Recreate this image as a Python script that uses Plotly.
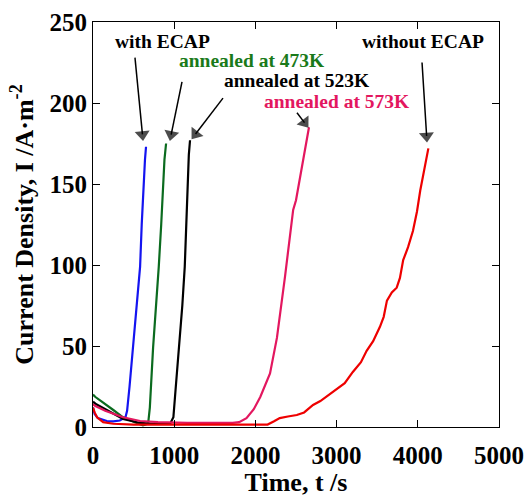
import math
import plotly.graph_objects as go

# Current density transients, time in s and current density in A/m^2
t_with_ecap = [0, 20, 60, 110, 170, 250, 330, 400, 420, 450, 495, 540, 580, 600, 620, 640, 653]
i_with_ecap = [12, 8, 5.5, 4.5, 3.7, 3.5, 4, 6, 10, 25, 49, 75, 99, 125, 150, 165, 173]

t_473 = [0, 30, 100, 170, 250, 370, 480, 560, 615, 650, 680, 700, 740, 780, 810, 840, 860, 880, 900]
i_473 = [20, 18.5, 16, 13.6, 10.5, 6, 3.5, 2, 1, 1.5, 2.5, 12, 49, 75, 99, 125, 150, 165, 175]

t_523 = [0, 40, 170, 370, 580, 750, 950, 990, 1020, 1060, 1100, 1130, 1150, 1160, 1180, 1195]
i_523 = [15.6, 14, 10.5, 5, 2.5, 2, 2, 6, 25, 49, 75, 99, 125, 150, 168, 177]

t_573 = [0, 30, 150, 370, 580, 800, 1160, 1500, 1720, 1800, 1890, 1980, 2060, 2180, 2265,
         2365, 2465, 2500, 2550, 2610, 2660]
i_573 = [14, 13, 10, 6, 3.7, 3, 2.5, 2.5, 2.5, 3, 5.5, 11, 18.5, 33, 55,
         93, 134, 140, 154, 170, 185]

t_without_ecap = [0, 20, 50, 125, 250, 500, 1000, 1500, 2000, 2150, 2230, 2300, 2400, 2510,
                  2600, 2710, 2800, 2955, 3000, 3100, 3200, 3300, 3370, 3450, 3535, 3580,
                  3620, 3680, 3740, 3780, 3820, 3880, 3940, 3990, 4030, 4080, 4130]
i_without_ecap = [12, 9, 6, 3, 2, 1.5, 1.5, 1.5, 1.5, 1.5, 3.5, 5.5, 6.5, 7.4,
                  9, 13.6, 16, 21.6, 23, 27, 34, 40, 47, 53, 62, 68,
                  78, 83, 86, 92, 103, 111, 121, 133, 146, 160, 172]

x_ticks = [0, 1000, 2000, 3000, 4000, 5000]
y_ticks = [0, 50, 100, 150, 200, 250]

SERIF = "Liberation Serif"
BLUE = "#1414f0"
GREEN = "#0b6b1f"
BLACK = "#000000"
PINK = "#e3175f"
RED = "#ee0000"

W, H = 528, 497
MARGIN = dict(l=93, r=29, t=22, b=70)
X_RANGE = [0, 5000]
Y_RANGE = [0, 250]
# data units per pixel, used to pull arrowheads back so their tips land on target
X_PER_PX = (X_RANGE[1] - X_RANGE[0]) / (W - MARGIN["l"] - MARGIN["r"])
Y_PER_PX = (Y_RANGE[1] - Y_RANGE[0]) / (H - MARGIN["t"] - MARGIN["b"])

series = [
    ("with ECAP", t_with_ecap, i_with_ecap, BLUE),
    ("annealed at 473K", t_473, i_473, GREEN),
    ("annealed at 523K", t_523, i_523, BLACK),
    ("annealed at 573K", t_573, i_573, PINK),
    ("without ECAP", t_without_ecap, i_without_ecap, RED),
]

fig = go.Figure()
for name, t, i, color in series:
    fig.add_trace(go.Scatter(x=t, y=i, mode="lines", name=name,
                             line=dict(color=color, width=2.2)))

# Labels with arrows pointing at the end of each curve
labels = [
    # text, text color, text pos (x, y), arrow tail (x, y), arrow tip (x, y)
    ("with ECAP", BLACK, (850, 238), (517, 228), (616, 177)),
    ("annealed at 473K", "#1a7a1a", (1958, 226), (1096, 213), (948, 177)),
    ("annealed at 523K", BLACK, (2512, 214), (1601, 203), (1219, 178)),
    ("annealed at 573K", PINK, (3005, 201), (2512, 194), (2648, 185)),
    ("without ECAP", BLACK, (4064, 238), (4052, 225), (4113, 176)),
]
HEAD = 13  # arrowhead marker size in px
for text, color, (tx, ty), (ax, ay), (hx, hy) in labels:
    fig.add_annotation(x=tx, y=ty, xref="x", yref="y", text=text, showarrow=False,
                       font=dict(family=SERIF, size=19.5, color=color, weight="bold"))
    # direction of the arrow in pixel space
    dxp = (hx - ax) / X_PER_PX
    dyp = (hy - ay) / Y_PER_PX
    L = math.hypot(dxp, dyp)
    back = HEAD * 0.45
    cx = hx - dxp / L * back * X_PER_PX
    cy = hy - dyp / L * back * Y_PER_PX
    fig.add_trace(go.Scatter(
        x=[ax, cx], y=[ay, cy], mode="lines+markers", hoverinfo="skip",
        line=dict(color=BLACK, width=1.5),
        marker=dict(symbol="triangle-up", size=[0, HEAD], color=BLACK,
                    angleref="previous", line=dict(width=0)),
    ))

axis_common = dict(
    showline=True, linecolor="black", linewidth=1, mirror="ticks",
    ticks="inside", ticklen=7, tickcolor="black", tickwidth=1,
    showgrid=False, zeroline=False, automargin=False,
    tickfont=dict(family=SERIF, size=25, color="black", weight="bold"),
)

fig.update_xaxes(range=X_RANGE, tickvals=x_ticks, ticklabelstandoff=6,
                 title=dict(text="Time, t /s", standoff=8,
                            font=dict(family=SERIF, size=26, color="black", weight="bold")),
                 **axis_common)
fig.update_yaxes(range=Y_RANGE, tickvals=y_ticks,
                 title=dict(text="Current Density, I /A·m<sup>-2</sup>", standoff=8,
                            font=dict(family=SERIF, size=26, color="black", weight="bold")),
                 **axis_common)

fig.update_layout(
    width=W, height=H,
    margin=MARGIN,
    paper_bgcolor="white", plot_bgcolor="white",
    showlegend=False,
)

fig.write_html("out.html")
